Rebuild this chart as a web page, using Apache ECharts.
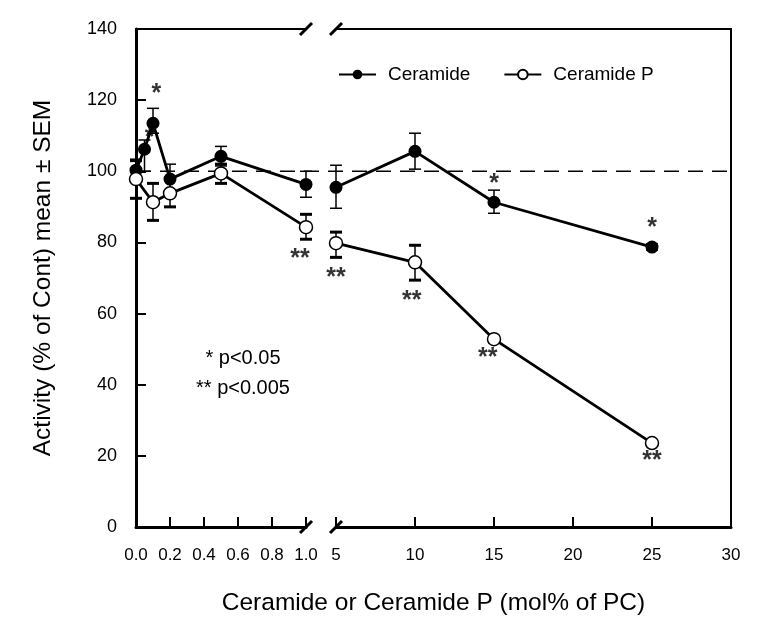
<!DOCTYPE html>
<html><head><meta charset="utf-8">
<script src="https://cdn.jsdelivr.net/npm/echarts@6/dist/echarts.min.js"></script>
<style>html,body{margin:0;padding:0;background:#fff}#c{width:766px;height:632px}</style>
</head><body><div id="c"></div>
<script>
// ---- data ----
const leftX = [0, 0.05, 0.1, 0.2, 0.5, 1.0];
const ceramideLeft = [100.3, 106.2, 113.5, 97.8, 104.2, 96.3];
const ceramideLeftLow = [97.0, 100.0, 110.7, 94.0, 101.5, 92.7];
const ceramideLeftHigh = [103.4, 108.8, 117.7, 102.0, 107.0, 100.0];
const leftXP = [0, 0.1, 0.2, 0.5, 1.0];
const ceramidePLeft = [97.8, 91.3, 93.8, 99.4, 84.3];
const ceramidePLeftLow = [92.4, 86.2, 90.0, 96.6, 80.9];
const ceramidePLeftHigh = [103.0, 96.6, 97.5, 102.0, 87.9];
const rightX = [5, 10, 15, 25];
const ceramideRight = [95.5, 105.6, 91.3, 78.7];
const ceramideRightLow = [89.6, 100.6, 88.2, 77.8];
const ceramideRightHigh = [101.7, 110.7, 94.7, 79.6];
const ceramidePRight = [79.8, 74.4, 52.8, 23.6];
const ceramidePRightLow = [75.8, 69.4, 52.0, 23.0];
const ceramidePRightHigh = [82.9, 79.2, 53.6, 24.2];
const leftTickLabels = ['0.0', '0.2', '0.4', '0.6', '0.8', '1.0'];
const rightTickLabels = ['5', '10', '15', '20', '25', '30'];
const yTickLabels = ['0', '20', '40', '60', '80', '100', '120', '140'];
const referenceLevel = 100;
// significance marks: [x, y, text]
const starsLeft = [[0.08, 111, '*'], [0.12, 123.3, '*'], [0.965, 77, '**']];
const starsRight = [[15, 98, '*'], [25, 85.7, '*'], [5, 71.6, '**'], [9.8, 65.2, '**'], [14.6, 49.2, '**'], [25, 20.2, '**']];
const legendNames = ['Ceramide', 'Ceramide P'];
const pNotes = ['* p<0.05', '** p<0.005'];
const xName = 'Ceramide or Ceramide P (mol% of PC)';
const yName = 'Activity (% of Cont) mean \u00b1 SEM';

// ---- chart ----
const FONT = '"Liberation Sans", Arial, sans-serif';
const chart = echarts.init(document.getElementById('c'), null, {renderer: 'canvas'});

function errRender(capW, capLw) {
  return function (params, api) {
    const x = api.value(0), lo = api.value(1), hi = api.value(2);
    const a = api.coord([x, hi]), b = api.coord([x, lo]);
    const st = {stroke: '#000', lineWidth: capLw};
    return {type: 'group', children: [
      {type: 'line', shape: {x1: a[0], y1: a[1], x2: b[0], y2: b[1]}, style: {stroke: '#000', lineWidth: 1.5}},
      {type: 'line', shape: {x1: a[0] - capW, y1: a[1], x2: a[0] + capW, y2: a[1]}, style: st},
      {type: 'line', shape: {x1: b[0] - capW, y1: b[1], x2: b[0] + capW, y2: b[1]}, style: st}
    ]};
  };
}
const zip2 = (xs, ys) => xs.map((x, i) => [x, ys[i]]);
const zip3 = (xs, lo, hi) => xs.map((x, i) => [x, lo[i], hi[i]]);

const solidStyle = {
  type: 'line', name: legendNames[0], symbol: 'circle', symbolSize: 13,
  lineStyle: {color: '#000', width: 2.8}, itemStyle: {color: '#000'}, z: 5, silent: true
};
const openStyle = {
  type: 'line', name: legendNames[1], symbol: 'circle', symbolSize: 13,
  lineStyle: {color: '#000', width: 2.8}, itemStyle: {color: '#fff', borderColor: '#000', borderWidth: 1.5}, z: 5, silent: true
};
const starSeries = (xi, data) => ({
  type: 'scatter', xAxisIndex: xi, yAxisIndex: xi, data: data, symbolSize: 1,
  itemStyle: {color: 'rgba(0,0,0,0)'}, z: 2, silent: true,
  label: {show: true, position: 'inside', formatter: p => p.data[2], fontSize: 25, fontWeight: 'bold', color: '#000', fontFamily: FONT, offset: [0, 6]}
});

const baseX = {
  type: 'value', splitLine: {show: false},
  axisLine: {lineStyle: {color: '#000', width: 3}},
  axisTick: {inside: true, length: 10, lineStyle: {color: '#000', width: 2}},
  axisLabel: {fontSize: 17, color: '#000', fontFamily: FONT, margin: 20}
};
const frameAxis = {
  type: 'value', splitLine: {show: false}, axisTick: {show: false}, axisLabel: {show: false},
  axisLine: {lineStyle: {color: '#000', width: 2}}
};

const option = {
  animation: false,
  backgroundColor: '#fff',
  textStyle: {fontFamily: FONT},
  grid: [
    {left: 136, top: 29, width: 170, height: 498},
    {left: 336, top: 29, width: 395, height: 498},
    {left: 136, top: 29, width: 595, height: 498}
  ],
  legend: {
    data: legendNames, left: 333, top: 60, itemWidth: 37, itemHeight: 12, itemGap: 33,
    textStyle: {fontSize: 19, color: '#000', fontFamily: FONT, padding: [0, 0, 0, 7]}
  },
  xAxis: [
    Object.assign({}, baseX, {gridIndex: 0, min: 0, max: 1, interval: 0.2,
      axisLabel: Object.assign({}, baseX.axisLabel, {formatter: v => leftTickLabels[Math.round(v / 0.2)]})}),
    Object.assign({}, baseX, {gridIndex: 1, min: 5, max: 30, interval: 5,
      axisLabel: Object.assign({}, baseX.axisLabel, {formatter: v => rightTickLabels[Math.round(v / 5) - 1]})}),
    Object.assign({}, frameAxis, {gridIndex: 0, position: 'top', min: 0, max: 1}),
    Object.assign({}, frameAxis, {gridIndex: 1, position: 'top', min: 5, max: 30}),
    {gridIndex: 2, type: 'value', min: 0, max: 1, axisLine: {show: false}, axisTick: {show: false},
      axisLabel: {show: false}, splitLine: {show: false},
      name: xName, nameLocation: 'middle', nameGap: 64,
      nameTextStyle: {fontSize: 24.5, color: '#000', fontFamily: FONT}}
  ],
  yAxis: [
    {gridIndex: 0, type: 'value', min: 0, max: 140, interval: 20, splitLine: {show: false},
      axisLine: {lineStyle: {color: '#000', width: 3}},
      axisTick: {inside: true, length: 10, lineStyle: {color: '#000', width: 2}},
      axisLabel: {fontSize: 18, color: '#000', fontFamily: FONT, margin: 19, formatter: v => yTickLabels[Math.round(v / 20)]},
      name: yName, nameLocation: 'middle', nameGap: 80,
      nameTextStyle: {fontSize: 24.5, color: '#000', fontFamily: FONT}},
    Object.assign({}, frameAxis, {gridIndex: 1, position: 'right', min: 0, max: 140}),
    {gridIndex: 2, type: 'value', min: 0, max: 140, show: false}
  ],
  series: [
    {type: 'line', xAxisIndex: 4, yAxisIndex: 2, data: [[0, referenceLevel], [1, referenceLevel]], symbol: 'none',
      lineStyle: {color: '#000', width: 1.5, type: [15, 9]}, z: 1, silent: true},
    {type: 'custom', xAxisIndex: 0, yAxisIndex: 0, renderItem: errRender(6, 1.5), data: zip3(leftX, ceramideLeftLow, ceramideLeftHigh), z: 3, silent: true},
    {type: 'custom', xAxisIndex: 0, yAxisIndex: 0, renderItem: errRender(6, 3), data: zip3(leftXP, ceramidePLeftLow, ceramidePLeftHigh), z: 3, silent: true},
    {type: 'custom', xAxisIndex: 1, yAxisIndex: 1, renderItem: errRender(6, 1.5), data: zip3(rightX, ceramideRightLow, ceramideRightHigh), z: 3, silent: true},
    {type: 'custom', xAxisIndex: 1, yAxisIndex: 1, renderItem: errRender(6, 3), data: zip3(rightX, ceramidePRightLow, ceramidePRightHigh), z: 3, silent: true},
    Object.assign({}, solidStyle, {xAxisIndex: 0, yAxisIndex: 0, data: zip2(leftX, ceramideLeft)}),
    Object.assign({}, openStyle, {xAxisIndex: 0, yAxisIndex: 0, data: zip2(leftXP, ceramidePLeft)}),
    Object.assign({}, solidStyle, {xAxisIndex: 1, yAxisIndex: 1, data: zip2(rightX, ceramideRight)}),
    Object.assign({}, openStyle, {xAxisIndex: 1, yAxisIndex: 1, data: zip2(rightX, ceramidePRight)}),
    starSeries(0, starsLeft),
    starSeries(1, starsRight)
  ],
  graphic: [
    {id: 'p1', type: 'text', style: {text: pNotes[0], x: 243, y: 358, textAlign: 'center', textVerticalAlign: 'middle', fontSize: 20, fill: '#000', fontFamily: FONT}},
    {id: 'p2', type: 'text', style: {text: pNotes[1], x: 243, y: 388, textAlign: 'center', textVerticalAlign: 'middle', fontSize: 20, fill: '#000', fontFamily: FONT}}
  ]
};
chart.setOption(option);

// axis-break slashes at the ends of the two x segments (bottom and top)
const pL0 = chart.convertToPixel({xAxisIndex: 0, yAxisIndex: 0}, [1, 0]);
const pL1 = chart.convertToPixel({xAxisIndex: 0, yAxisIndex: 0}, [1, 140]);
const pR0 = chart.convertToPixel({xAxisIndex: 1, yAxisIndex: 1}, [5, 0]);
const pR1 = chart.convertToPixel({xAxisIndex: 1, yAxisIndex: 1}, [5, 140]);
const slash = (id, p) => ({id: id, type: 'line', z: 10,
  shape: {x1: p[0] - 6, y1: p[1] + 6, x2: p[0] + 6, y2: p[1] - 6},
  style: {stroke: '#000', lineWidth: 3}});
chart.setOption({graphic: [slash('s1', pL0), slash('s2', pL1), slash('s3', pR0), slash('s4', pR1)]});
</script></body></html>
